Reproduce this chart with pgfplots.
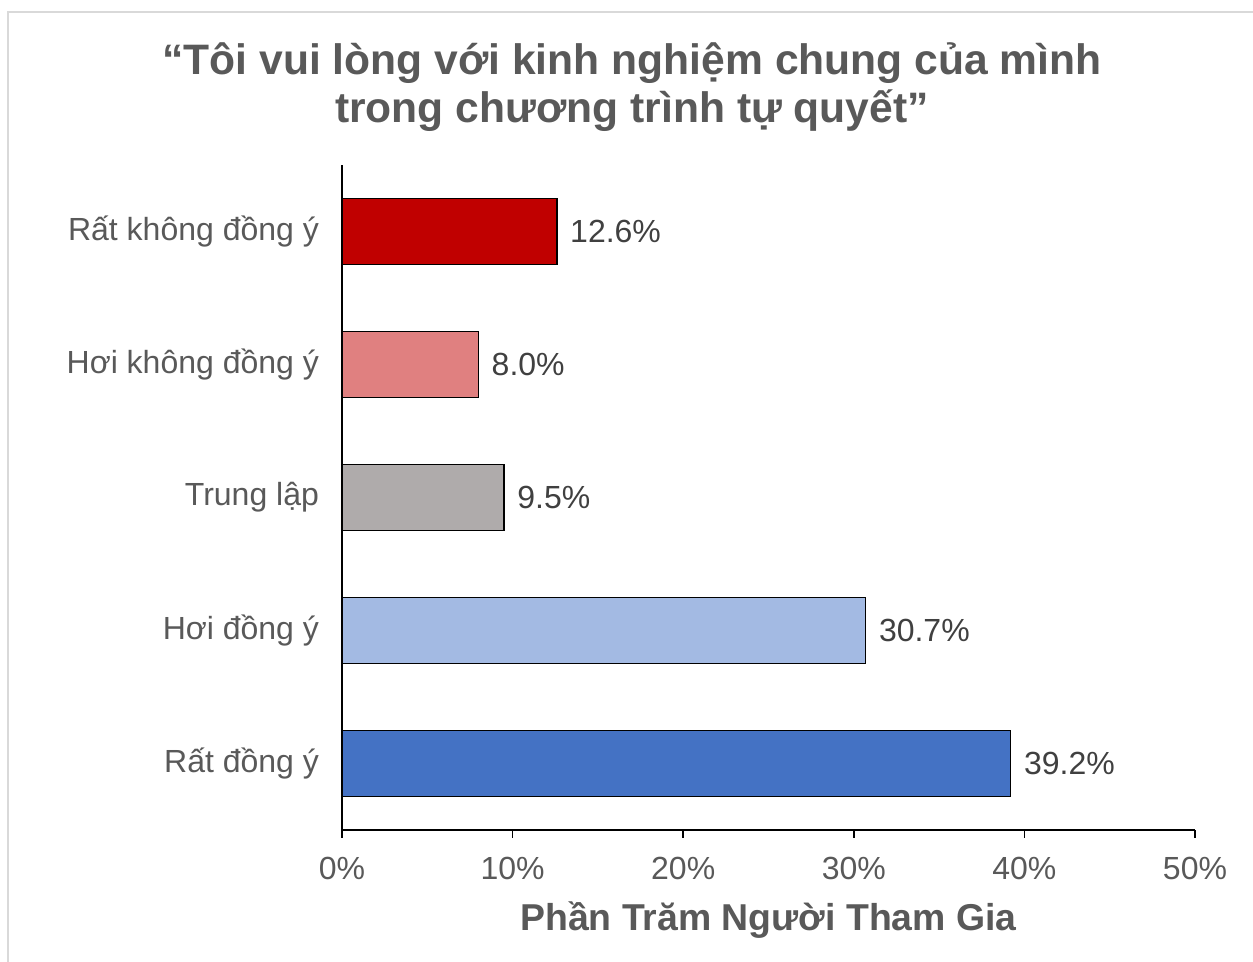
\documentclass[border=0pt]{standalone}
\usepackage{pgfplots}
\pgfplotsset{compat=1.18}
\usepackage{fontspec}
\setmainfont{Liberation Sans}
\definecolor{txt}{HTML}{595959}
\definecolor{lbl}{HTML}{404040}
\definecolor{c1}{HTML}{C00000}
\definecolor{c2}{HTML}{E08080}
\definecolor{c3}{HTML}{AFABAB}
\definecolor{c4}{HTML}{A3BAE3}
\definecolor{c5}{HTML}{4472C4}
\definecolor{brd}{HTML}{D9D9D9}
\begin{document}
\begin{tikzpicture}
\path[use as bounding box, fill=white] (0,0) rectangle (626.5pt,481pt);
\draw[brd, line width=1pt] (4pt,0) -- (4pt,475pt) -- (626.5pt,475pt);
\node[align=center, font=\fontsize{21.3}{24}\bfseries\selectfont, text=txt] at (316pt,437.5pt)
  {“Tôi vui lòng với kinh nghiệm chung của mình\\trong chương trình tự quyết”};
\begin{axis}[
  at={(171pt,66pt)}, anchor=south west,
  scale only axis, width=426.5pt, height=332.5pt,
  xmin=0, xmax=50, ymin=-0.5, ymax=4.5,
  axis x line*=bottom, axis y line*=left,
  axis line style={black, line width=0.8pt},
  xtick={0,10,20,30,40,50},
  xticklabel={\pgfmathprintnumber{\tick}\%},
  /pgf/number format/assume math mode=true,
  tick style={black, line width=0.8pt},
  major tick length=4pt,
  tick align=outside,
  ytick={0,1,2,3,4},
  yticklabels={Rất đồng ý,Hơi đồng ý,Trung lập,Hơi không đồng ý,Rất không đồng ý},
  y tick style={draw=none},
  ticklabel style={font=\fontsize{16}{19}\selectfont, text=txt},
  xticklabel style={yshift=-6pt},
  yticklabel style={xshift=-4pt},
  xlabel={Phần Trăm Người Tham Gia},
  xlabel style={font=\fontsize{18.7}{22}\bfseries\selectfont, text=txt, yshift=-4pt},
  xbar, bar width=0.5, bar shift=0,
  nodes near coords={\pgfmathprintnumber[fixed,fixed zerofill,precision=1]{\pgfplotspointmeta}\%},
  nodes near coords style={font=\fontsize{16}{19}\selectfont, text=lbl, anchor=west, xshift=3pt},
  every axis plot/.append style={draw=black, line width=0.6pt},
  clip=false,
]
\addplot[fill=c1] coordinates {(12.6,4)};
\addplot[fill=c2] coordinates {(8.0,3)};
\addplot[fill=c3] coordinates {(9.5,2)};
\addplot[fill=c4] coordinates {(30.7,1)};
\addplot[fill=c5] coordinates {(39.2,0)};
\end{axis}
\end{tikzpicture}
\end{document}
